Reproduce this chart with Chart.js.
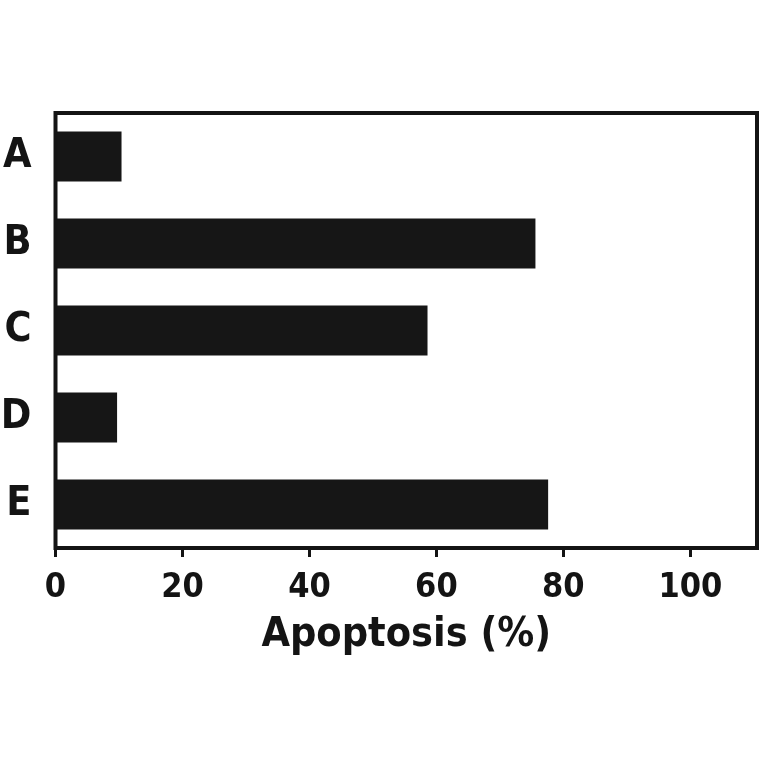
<!DOCTYPE html>
<html>
<head>
<meta charset="utf-8">
<script src="https://cdn.jsdelivr.net/npm/chart.js@4.4.1/dist/chart.umd.min.js"></script>
<style>
  html, body { margin: 0; padding: 0; background: #fff; }
  #wrap { width: 764px; height: 764px; }
</style>
</head>
<body>
<div id="wrap"><canvas id="apoptosisChart" width="764" height="764"></canvas></div>
<script>
// data
const categories = ['A', 'B', 'C', 'D', 'E'];
const apoptosis = [10.4, 75.6, 58.6, 9.7, 77.6];
const xTickValues = [0, 20, 40, 60, 80, 100];
const axisTitle = 'Apoptosis (%)';
const xMin = 0;
const xMax = 110.5;

const ink = '#141414';
const fontFamily = "'DejaVu Sans Condensed', 'DejaVu Sans', sans-serif";

// black frame around the plot area
const framePlugin = {
    id: 'frame',
    afterDraw(chart) {
        const { ctx, chartArea } = chart;
        ctx.save();
        ctx.strokeStyle = ink;
        ctx.lineWidth = 4;
        ctx.strokeRect(chartArea.left, chartArea.top,
            chartArea.right - chartArea.left, chartArea.bottom - chartArea.top);
        ctx.restore();
    }
};

const ctx = document.getElementById('apoptosisChart').getContext('2d');
new Chart(ctx, {
    type: 'bar',
    data: {
        labels: categories,
        datasets: [{
            data: apoptosis,
            backgroundColor: '#161616',
            borderWidth: 0,
            barPercentage: 0.575,
            categoryPercentage: 1.0
        }]
    },
    options: {
        indexAxis: 'y',
        responsive: false,
        animation: false,
        devicePixelRatio: 1,
        layout: { padding: { top: 113, right: 7, bottom: 104, left: 0 } },
        plugins: {
            legend: { display: false },
            tooltip: { enabled: false }
        },
        scales: {
            x: {
                min: xMin,
                max: xMax,
                afterBuildTicks(scale) {
                    scale.ticks = xTickValues.map(v => ({ value: v }));
                },
                ticks: {
                    color: ink,
                    padding: 11,
                    font: { family: fontFamily, size: 34, weight: 'bold' }
                },
                grid: {
                    display: true,
                    drawOnChartArea: false,
                    drawTicks: true,
                    tickLength: 9,
                    lineWidth: 3,
                    color: ink
                },
                border: { display: false },
                title: {
                    display: true,
                    text: axisTitle,
                    color: ink,
                    padding: { top: 0, bottom: 0 },
                    font: { family: fontFamily, size: 41, weight: 'bold' }
                },
                afterFit(scale) { scale.height = 112; }
            },
            y: {
                ticks: {
                    color: ink,
                    padding: 24,
                    font: { family: fontFamily, size: 41, weight: 'bold' }
                },
                grid: { display: false, drawTicks: false },
                border: { display: false },
                afterFit(scale) { scale.width = 55.5; }
            }
        }
    },
    plugins: [framePlugin]
});
</script>
</body>
</html>
